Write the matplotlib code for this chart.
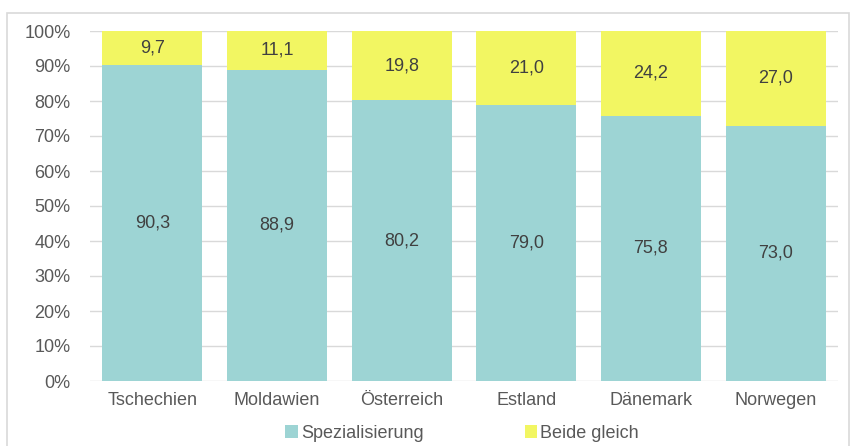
import matplotlib.pyplot as plt
from matplotlib.patches import Rectangle

countries = ["Tschechien", "Moldawien", "Österreich", "Estland", "Dänemark", "Norwegen"]
spezialisierung = [90.3, 88.9, 80.2, 79.0, 75.8, 73.0]
beide_gleich = [9.7, 11.1, 19.8, 21.0, 24.2, 27.0]

teal = "#9dd4d4"
yellow = "#f2f662"

plt.rcParams["font.family"] = ["Liberation Sans", "DejaVu Sans"]

fig = plt.figure(figsize=(8.5, 4.46), dpi=100)
ax = fig.add_axes([90 / 850, 1 - 381 / 446, 748 / 850, 350 / 446])

x = range(len(countries))
b1 = ax.bar(x, spezialisierung, width=0.8, color=teal, label="Spezialisierung", zorder=2)
b2 = ax.bar(x, beide_gleich, width=0.8, bottom=spezialisierung, color=yellow,
            label="Beide gleich", zorder=2)

def fmt(v):
    return "{:.1f}".format(v).replace(".", ",")

for i, (a, b) in enumerate(zip(spezialisierung, beide_gleich)):
    ax.text(i, a / 2, fmt(a), ha="center", va="center", fontsize=13, color="#404040")
    ax.text(i, a + b / 2, fmt(b), ha="center", va="center", fontsize=13, color="#404040")

ax.set_xlim(-0.5, len(countries) - 0.5)
ax.set_ylim(0, 100)
ax.set_yticks(range(0, 101, 10))
ax.set_yticklabels(["{}%".format(v) for v in range(0, 101, 10)])
ax.set_xticks(list(x))
ax.set_xticklabels(countries)
ax.tick_params(axis="both", length=0, labelsize=13, colors="#595959")
ax.tick_params(axis="y", pad=14)
ax.tick_params(axis="x", pad=8)
ax.grid(axis="y", color="#d9d9d9", linewidth=1, zorder=0)
for s in ax.spines.values():
    s.set_visible(False)

fig.legend(handles=[b1, b2], loc="center", bbox_to_anchor=(462 / 850, 1 - 433 / 446),
           ncol=2, frameon=False, fontsize=13, handlelength=0.7, handleheight=0.7,
           handletextpad=0.15, columnspacing=5.6, labelcolor="#595959")

fig.patches.append(Rectangle((7 / 850, -0.01), 842 / 850, 1 - 13 / 446 + 0.01,
                             transform=fig.transFigure, fill=False,
                             edgecolor="#d9d9d9", linewidth=1.2))

fig.savefig("out.png", dpi=100)
